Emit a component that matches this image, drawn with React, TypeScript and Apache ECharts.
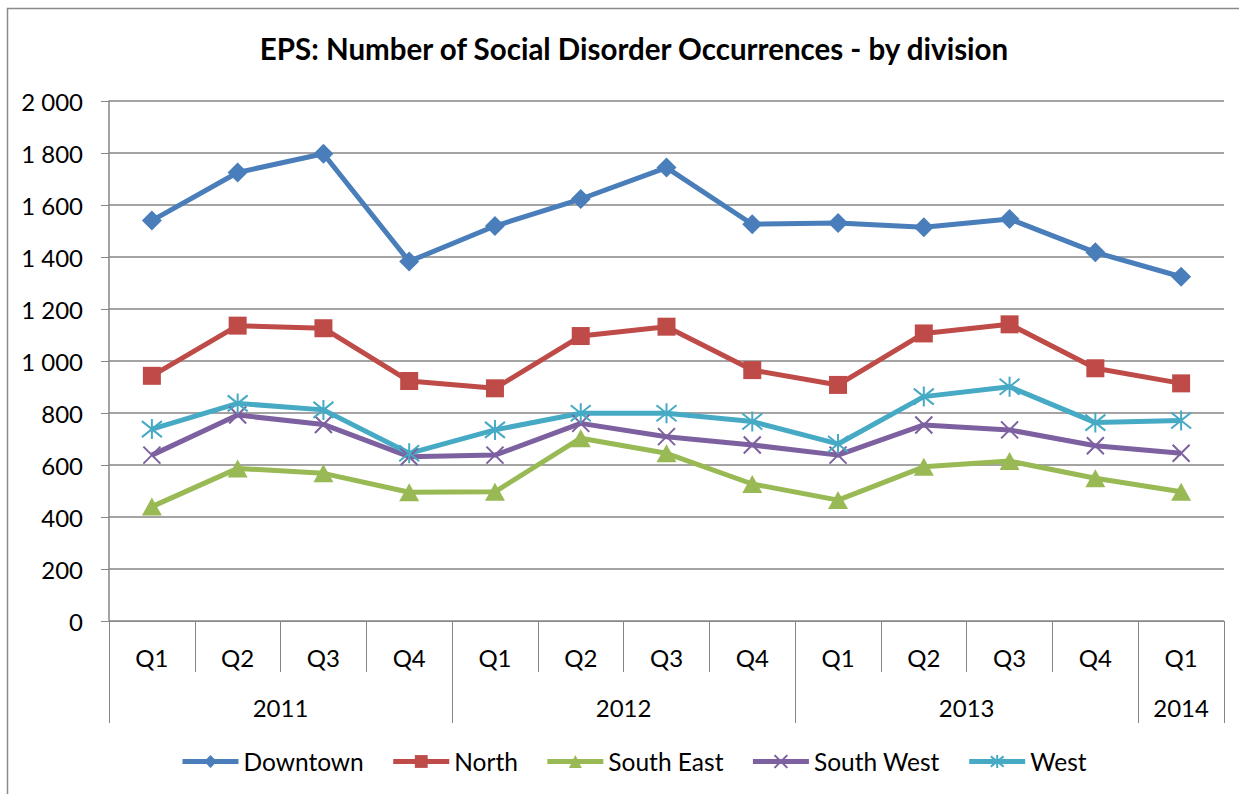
import React, { useEffect, useRef } from "react";
import * as echarts from "echarts";

const quarters = ["Q1", "Q2", "Q3", "Q4", "Q1", "Q2", "Q3", "Q4", "Q1", "Q2", "Q3", "Q4", "Q1"];
const years = ["2011", "2012", "2013", "2014"];
const quartersPerYear = [4, 4, 4, 1];
const yTicks = [0, 200, 400, 600, 800, 1000, 1200, 1400, 1600, 1800, 2000];

const downtown = [1540, 1725, 1797, 1383, 1519, 1623, 1744, 1526, 1531, 1514, 1546, 1418, 1324];
const north = [943, 1136, 1126, 923, 895, 1096, 1132, 965, 908, 1106, 1141, 972, 914];
const southEast = [440, 587, 568, 495, 497, 703, 645, 527, 465, 593, 615, 549, 497];
const southWest = [638, 792, 756, 632, 638, 760, 709, 677, 638, 754, 735, 674, 645];
const west = [738, 837, 812, 645, 735, 799, 799, 767, 681, 863, 901, 763, 771];

const FONT = "Lato";
const LABEL_SIZE = 24;

// year centres on a 0..13 value scale
const yearCentres: Record<string, string> = {};
{
  let start = 0;
  years.forEach((y, i) => {
    const c = start + quartersPerYear[i] / 2;
    yearCentres[String(c)] = y;
    start += quartersPerYear[i];
  });
}
const yearStarts = new Set<number>();
{
  let s = 0;
  quartersPerYear.forEach((n) => {
    yearStarts.add(s);
    s += n;
  });
}

const fmtThousands = (v: number) => String(v).replace(/\B(?=(\d{3})+(?!\d))/g, " ");

export default function App() {
  const ref = useRef<HTMLDivElement>(null);
  useEffect(() => {
    if (!ref.current) return;
    const chart = echarts.init(ref.current, undefined, { renderer: "svg" });
    const axisGray = "#868686";
    const mk = (name: string, data: number[], color: string, symbol: string, size: number | number[], stroke = false) => ({
      name,
      type: "line",
      data,
      symbol,
      symbolSize: size,
      lineStyle: { width: 5, color },
      itemStyle: stroke
        ? { color: "rgba(0,0,0,0)", borderColor: color, borderWidth: 2 }
        : { color, borderWidth: 0 },
      color,
    });
    chart.setOption({
      animation: false,
      backgroundColor: "#fff",
      graphic: [
        {
          type: "rect",
          shape: { x: 7.5, y: 8.5, width: 1400, height: 1000 },
          style: { fill: "none", stroke: "#8a8a8a", lineWidth: 1.5 },
          silent: true,
          z: -10,
        },
      ],
      title: {
        text: "EPS: Number of Social Disorder Occurrences - by division",
        left: 629,
        textAlign: "center",
        top: 28,
        textStyle: { fontFamily: FONT, fontWeight: "bold", fontSize: 29.5, color: "#000" },
      },
      legend: {
        left: 175,
        top: 744,
        itemWidth: 56,
        itemHeight: 16,
        itemGap: 27,
        lineStyle: { width: 5 },
        textStyle: { fontFamily: FONT, fontSize: 24.5, color: "#000" },
        data: ["Downtown", "North", "South East", "South West", "West"],
      },
      grid: { left: 109, right: 15, top: 101, bottom: 173 },
      xAxis: [
        {
          type: "category",
          position: "bottom",
          data: quarters,
          boundaryGap: true,
          axisLine: { show: true, lineStyle: { color: axisGray, width: 1 } },
          axisTick: { show: true, length: 51, interval: 0, lineStyle: { color: axisGray } },
          axisLabel: { interval: 0, margin: 24, fontFamily: FONT, fontSize: LABEL_SIZE, color: "#000" },
          splitLine: { show: false },
        },
        {
          type: "category",
          position: "bottom",
          offset: 0,
          data: quarters,
          boundaryGap: true,
          axisLine: { show: false },
          axisTick: {
            show: true,
            length: 102,
            interval: (i: number) => yearStarts.has(i),
            lineStyle: { color: axisGray },
          },
          axisLabel: { show: false },
          splitLine: { show: false },
        },
        {
          type: "value",
          position: "bottom",
          offset: 0,
          min: 0,
          max: quarters.length,
          interval: 0.5,
          axisLine: { show: false },
          axisTick: { show: false },
          splitLine: { show: false },
          axisLabel: {
            margin: 74,
            fontFamily: FONT,
            fontSize: LABEL_SIZE,
            color: "#000",
            showMinLabel: true,
            showMaxLabel: true,
            formatter: (v: number) => yearCentres[String(v)] || "",
          },
        },
      ],
      yAxis: {
        type: "value",
        min: yTicks[0],
        max: yTicks[yTicks.length - 1],
        interval: 200,
        axisLine: { show: true, lineStyle: { color: axisGray, width: 1.5 } },
        axisTick: { show: true, inside: false, length: 8, lineStyle: { color: axisGray } },
        axisLabel: { margin: 26, fontFamily: FONT, fontSize: LABEL_SIZE, color: "#000", formatter: (v: number) => fmtThousands(v) },
        splitLine: { show: true, lineStyle: { color: axisGray, width: 1.5 } },
      },
      series: [
        mk("Downtown", downtown, "#4A7EBB", "diamond", 20),
        mk("North", north, "#BE4B48", "rect", 18),
        mk("South East", southEast, "#98B954", "triangle", [20, 18]),
        mk("South West", southWest, "#7D60A0", "path://M0,0L20,20M20,0L0,20", 17, true),
        mk("West", west, "#46AAC5", "path://M2,2L18,18M18,2L2,18M10,0L10,20", 20, true),
      ],
    });
    return () => chart.dispose();
  }, []);
  return <div ref={ref} style={{ position: "fixed", left: 0, top: 0, width: 1239, height: 794 }} />;
}
